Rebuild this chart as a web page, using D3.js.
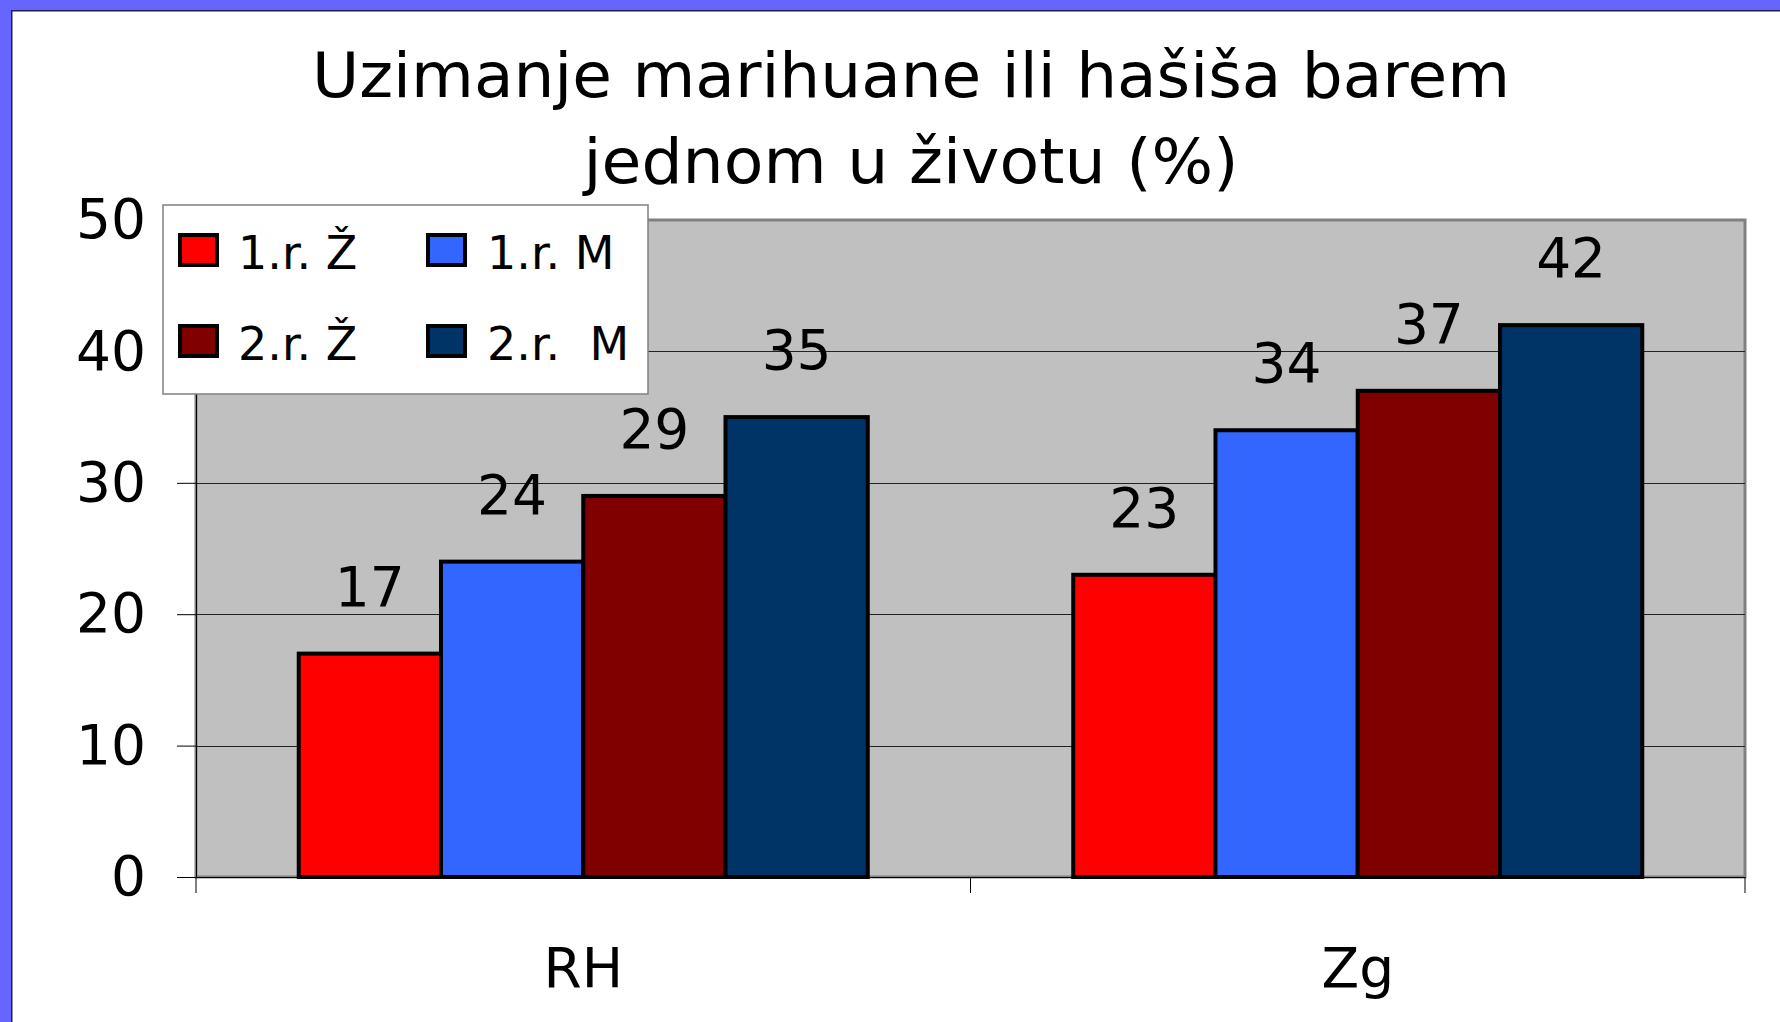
<!DOCTYPE html>
<html>
<head>
<meta charset="utf-8">
<script src="https://cdn.jsdelivr.net/npm/d3@7"></script>
<style>
  html, body { margin: 0; padding: 0; background: #ffffff; }
  svg { display: block; }
  text { font-family: "DejaVu Sans", sans-serif; fill: #000; }
</style>
</head>
<body>
<script>
// ---- data ----
const titleLines = ["Uzimanje marihuane ili hašiša barem", "jednom u životu (%)"];
const categories = ["RH", "Zg"];
const seriesNames = ["1.r. Ž", "1.r. M", "2.r. Ž", "2.r.  M"];
const values1rZ = [17, 23];
const values1rM = [24, 34];
const values2rZ = [29, 37];
const values2rM = [35, 42];
const yTicks = [0, 10, 20, 30, 40, 50];
const seriesColors = ["#FF0000", "#3366FF", "#800000", "#003366"];

const seriesValues = [values1rZ, values1rM, values2rZ, values2rM];
const table = categories.map((c, i) => ({
  category: c,
  bars: seriesNames.map((s, j) => ({ series: s, value: seriesValues[j][i], color: seriesColors[j] }))
}));

const W = 1780, H = 1022;
const svg = d3.select("body").append("svg").attr("width", W).attr("height", H);

// frame
svg.append("rect").attr("x", 0).attr("y", 0).attr("width", W).attr("height", H).attr("fill", "#ffffff");
svg.append("rect").attr("x", 0).attr("y", 0).attr("width", 11).attr("height", H).attr("fill", "#6666FF");
svg.append("rect").attr("x", 0).attr("y", 0).attr("width", W).attr("height", 10).attr("fill", "#6666FF");
svg.append("rect").attr("x", 11).attr("y", 10).attr("width", 1.5).attr("height", H).attr("fill", "#222244");
svg.append("rect").attr("x", 11).attr("y", 10).attr("width", W).attr("height", 1.5).attr("fill", "#222244");

// plot geometry
const plot = { left: 196, right: 1745, top: 220, bottom: 877 };
const pad = 0.2653;
const x0 = d3.scaleBand().domain(categories).range([plot.left, plot.right])
  .paddingInner(pad).paddingOuter(pad / 2);
const x1 = d3.scaleBand().domain(seriesNames).range([0, x0.bandwidth()]).padding(0);
const y = d3.scaleLinear().domain([0, 50]).range([plot.bottom, plot.top]);

// plot background
svg.append("rect")
  .attr("x", plot.left).attr("y", plot.top)
  .attr("width", plot.right - plot.left).attr("height", plot.bottom - plot.top)
  .attr("fill", "#C0C0C0").attr("stroke", "#808080").attr("stroke-width", 3);

// gridlines
svg.append("g").selectAll("line")
  .data(yTicks.filter(t => t > 0 && t < 50))
  .join("line")
  .attr("x1", plot.left).attr("x2", plot.right)
  .attr("y1", d => Math.round(y(d)) + 0.5).attr("y2", d => Math.round(y(d)) + 0.5)
  .attr("stroke", "#222").attr("stroke-width", 1);

// y axis
const yAxis = svg.append("g").attr("transform", `translate(${plot.left},0)`)
  .call(d3.axisLeft(y).tickValues(yTicks).tickSize(19).tickPadding(31).tickSizeOuter(0));
yAxis.select(".domain").attr("stroke", "#000").attr("stroke-width", 1);
yAxis.selectAll(".tick line").attr("stroke", "#000");
yAxis.selectAll(".tick text").attr("font-size", 55).attr("font-family", "DejaVu Sans").attr("fill", "#000");

// x axis (labels)
const xAxis = svg.append("g").attr("transform", `translate(0,${plot.bottom})`)
  .call(d3.axisBottom(x0).tickSize(0).tickSizeOuter(0));
xAxis.select(".domain").attr("stroke", "#000").attr("stroke-width", 1);
xAxis.selectAll(".tick text").attr("font-size", 55).attr("dy", null).attr("y", 110)
  .attr("font-family", "DejaVu Sans").attr("fill", "#000");

// boundary ticks on x axis
const boundaries = categories.map(c => x0(c) - x0.step() * pad / 2).concat([plot.right]);
svg.append("g").selectAll("line").data(boundaries).join("line")
  .attr("x1", d => d).attr("x2", d => d)
  .attr("y1", plot.bottom).attr("y2", plot.bottom + 16)
  .attr("stroke", "#000").attr("stroke-width", 1);

// bars
const groups = svg.append("g").selectAll("g").data(table).join("g")
  .attr("transform", d => `translate(${x0(d.category)},0)`);
groups.selectAll("rect").data(d => d.bars).join("rect")
  .attr("x", d => x1(d.series))
  .attr("y", d => y(d.value))
  .attr("width", x1.bandwidth())
  .attr("height", d => y(0) - y(d.value))
  .attr("fill", d => d.color)
  .attr("stroke", "#000").attr("stroke-width", 4);
groups.selectAll("text").data(d => d.bars).join("text")
  .attr("x", d => x1(d.series) + x1.bandwidth() / 2)
  .attr("y", d => y(d.value) - 48)
  .attr("text-anchor", "middle")
  .attr("font-size", 55)
  .text(d => d.value);

// legend
const legend = svg.append("g");
legend.append("rect").attr("x", 163).attr("y", 205).attr("width", 485).attr("height", 189)
  .attr("fill", "#fff").attr("stroke", "#808080").attr("stroke-width", 1.5);
const legendPos = [
  { sx: 180, sy: 235, tx: 238, ty: 269 },
  { sx: 428, sy: 235, tx: 487, ty: 269 },
  { sx: 180, sy: 326, tx: 238, ty: 360 },
  { sx: 428, sy: 326, tx: 487, ty: 360 }
];
const legendItems = legend.selectAll("g").data(seriesNames).join("g");
legendItems.append("rect")
  .attr("x", (d, i) => legendPos[i].sx).attr("y", (d, i) => legendPos[i].sy)
  .attr("width", 37).attr("height", 30)
  .attr("fill", (d, i) => seriesColors[i]).attr("stroke", "#000").attr("stroke-width", 4);
legendItems.append("text")
  .attr("x", (d, i) => legendPos[i].tx).attr("y", (d, i) => legendPos[i].ty)
  .attr("font-size", 46)
  .attr("xml:space", "preserve")
  .style("white-space", "pre")
  .text(d => d);

// title
const title = svg.append("g");
const titleSpecs = [{ y: 97, w: 1198 }, { y: 183, w: 655 }];
titleLines.forEach((t, i) => {
  title.append("text")
    .attr("x", 911).attr("y", titleSpecs[i].y)
    .attr("text-anchor", "middle")
    .attr("font-size", 62)
    .attr("textLength", titleSpecs[i].w)
    .attr("lengthAdjust", "spacingAndGlyphs")
    .text(t);
});
</script>
</body>
</html>
